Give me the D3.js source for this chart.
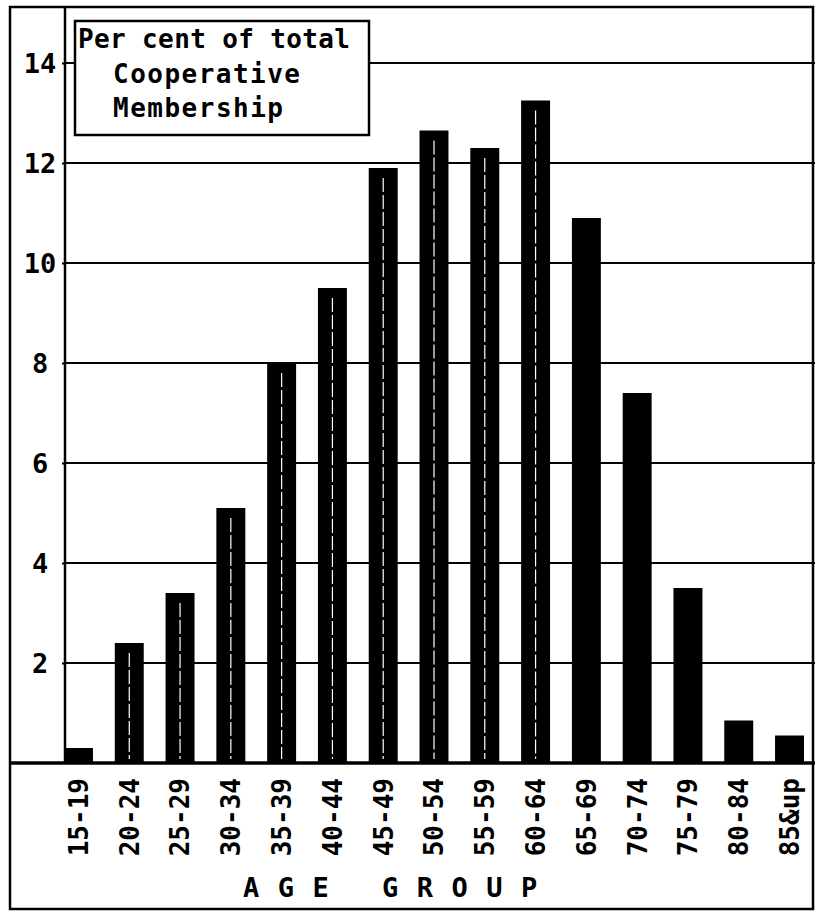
<!DOCTYPE html>
<html>
<head>
<meta charset="utf-8">
<script src="https://cdn.jsdelivr.net/npm/d3@7"></script>
<style>
  html, body { margin: 0; padding: 0; background: #fff; }
  svg { display: block; }
</style>
</head>
<body>
<svg id="chart" width="815" height="913"></svg>
<script>
const categories = ["15-19","20-24","25-29","30-34","35-39","40-44","45-49","50-54","55-59","60-64","65-69","70-74","75-79","80-84","85&up"];
const values = [0.3, 2.4, 3.4, 5.1, 8.0, 9.5, 11.9, 12.65, 12.3, 13.25, 10.9, 7.4, 3.5, 0.85, 0.55];
const yTicks = [2, 4, 6, 8, 10, 12, 14];
const legendLines = ["Per cent of total", "Cooperative", "Membership"];
const xTitle = "AGE GROUP";

const FONT = "'DejaVu Sans Mono', 'Liberation Mono', monospace";
const svg = d3.select("#chart");

const axisX = 65, baseY = 763, rightX = 815;
const y = d3.scaleLinear().domain([0, 14]).range([baseY, 63]);
const x = d3.scaleBand().domain(categories).range([64, 804]).paddingInner(0.43).paddingOuter(0);

// outer frame
svg.append("rect").attr("x", 10).attr("y", 7).attr("width", 803).attr("height", 902)
  .attr("fill", "none").attr("stroke", "#000").attr("stroke-width", 2.5);

// gridlines
svg.append("g").selectAll("line").data(yTicks).join("line")
  .attr("x1", axisX).attr("x2", rightX)
  .attr("y1", d => y(d)).attr("y2", d => y(d))
  .attr("stroke", "#000").attr("stroke-width", 2);

// bars
svg.append("g").selectAll("rect").data(values).join("rect")
  .attr("x", (d, i) => x(categories[i]))
  .attr("width", x.bandwidth())
  .attr("y", d => y(d))
  .attr("height", d => y(0) - y(d))
  .attr("fill", "#000");

// faint white centre streaks in tall bars
svg.append("g").selectAll("line").data(values.map((v, i) => ({v, c: categories[i], i})).filter(d => d.i >= 1 && d.i <= 9))
  .join("line")
  .attr("x1", d => x(d.c) + x.bandwidth() / 2).attr("x2", d => x(d.c) + x.bandwidth() / 2)
  .attr("y1", d => y(d.v) + 10).attr("y2", y(0) - 4)
  .attr("stroke", "#fff").attr("stroke-width", 1.2).attr("stroke-dasharray", "14 3");

// y axis
const yAxis = d3.axisLeft(y).tickValues(yTicks).tickSize(3).tickFormat(d3.format("d"));
const gy = svg.append("g").attr("transform", `translate(${axisX},0)`).call(yAxis);
gy.select(".domain").attr("d", `M0,7V${baseY}`).attr("stroke", "#000").attr("stroke-width", 2.5);
gy.selectAll(".tick line").attr("stroke", "#000").attr("stroke-width", 2);
gy.selectAll(".tick text")
  .attr("x", -25).attr("dy", "0.36em")
  .attr("text-anchor", "middle")
  .attr("font-family", FONT).attr("font-weight", "bold").attr("font-size", 27).attr("fill", "#000");

// baseline
svg.append("line").attr("x1", 10).attr("x2", rightX).attr("y1", baseY).attr("y2", baseY)
  .attr("stroke", "#000").attr("stroke-width", 3.5);

// x axis labels
const xAxis = d3.axisBottom(x).tickSize(0);
const gx = svg.append("g").attr("transform", `translate(0,${baseY})`).call(xAxis);
gx.select(".domain").remove();
gx.selectAll(".tick text")
  .attr("transform", "rotate(-90)")
  .attr("x", -15).attr("y", 0).attr("dy", "0.36em")
  .attr("text-anchor", "end")
  .attr("font-family", FONT).attr("font-weight", "bold").attr("font-size", 26).attr("fill", "#000");

// x title
svg.append("text").attr("x", 243).attr("y", 897)
  .attr("font-family", FONT).attr("font-weight", "bold").attr("font-size", 27)
  .attr("letter-spacing", 18.5).attr("fill", "#000")
  .text(xTitle);

// legend box
svg.append("rect").attr("x", 75).attr("y", 21).attr("width", 294).attr("height", 114)
  .attr("fill", "#fff").attr("stroke", "#000").attr("stroke-width", 2.5);
const legendPos = [{x: 78, y: 48, w: 272}, {x: 113, y: 83, w: 187}, {x: 113, y: 117, w: 170}];
svg.append("g").selectAll("text").data(legendLines).join("text")
  .attr("x", (d, i) => legendPos[i].x).attr("y", (d, i) => legendPos[i].y)
  .attr("textLength", (d, i) => legendPos[i].w).attr("lengthAdjust", "spacing")
  .attr("font-family", FONT).attr("font-weight", "bold").attr("font-size", 26).attr("fill", "#000")
  .text(d => d);
</script>
</body>
</html>
